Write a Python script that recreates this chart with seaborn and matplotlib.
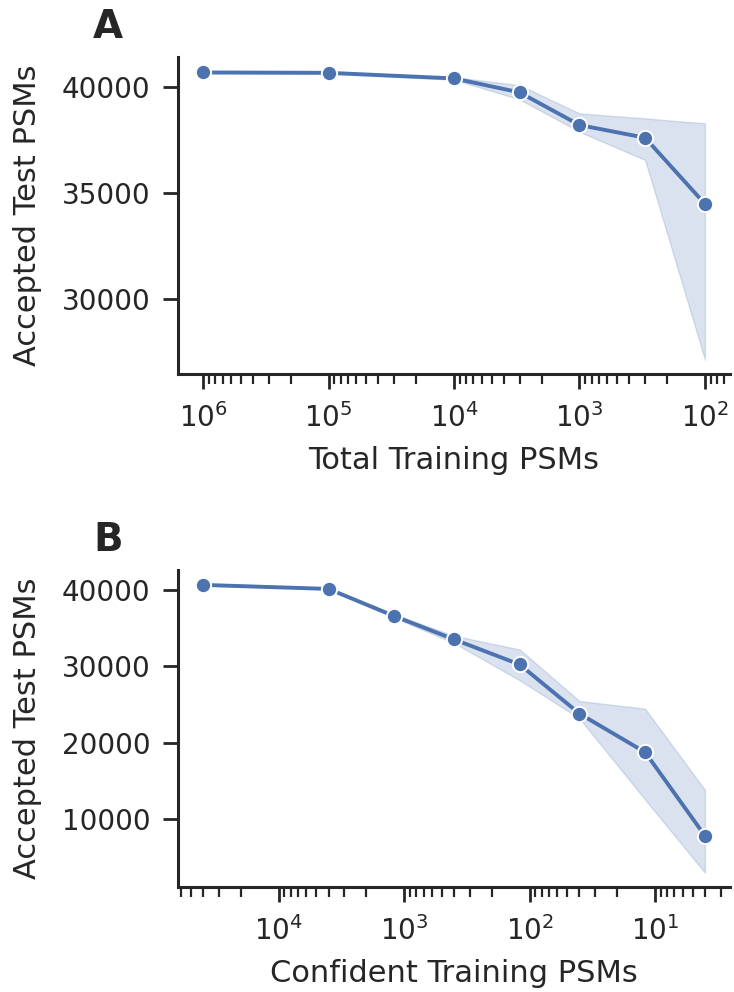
import matplotlib
matplotlib.use('Agg')
import matplotlib.pyplot as plt
import seaborn as sns
import pandas as pd

# panel A: subsampling all training PSMs
total_psms = [1e6, 1e5, 1e4, 3e3, 1e3, 3e2, 1e2]
total_mean = [40693, 40675, 40410, 39750, 38208, 37608, 34481]
total_lo = [40650, 40630, 40350, 39420, 37892, 36557, 27123]
total_hi = [40740, 40720, 40470, 40094, 38759, 38524, 38288]

# panel B: subsampling confident training PSMs
conf_psms = [40000, 4000, 1200, 400, 120, 40, 12, 4]
conf_mean = [40657, 40131, 36583, 33522, 30237, 23798, 18752, 7806]
conf_lo = [40600, 40060, 36350, 33050, 28173, 23180, 12550, 2983]
conf_hi = [40720, 40200, 36800, 34000, 32208, 25454, 24455, 13810]

sns.set_theme(style='ticks', context='talk')
plt.rcParams.update({
    'xtick.labelsize': 20, 'ytick.labelsize': 20,
    'axes.labelsize': 22,
    'xtick.major.size': 11, 'ytick.major.size': 11,
    'xtick.minor.size': 7, 'xtick.major.width': 2.0,
    'ytick.major.width': 2.0, 'xtick.minor.width': 1.6,
    'xtick.major.pad': 10, 'ytick.major.pad': 9,
    'axes.linewidth': 2.2,
})

color = sns.color_palette('deep')[0]

fig, axes = plt.subplots(2, 1, figsize=(7.34, 9.92), dpi=100)
fig.subplots_adjust(left=0.2425, right=0.9946, top=0.9425, bottom=0.1058,
                    hspace=0.618)

panels = [
    (total_psms, total_mean, total_lo, total_hi, 'Total Training PSMs', 'A'),
    (conf_psms, conf_mean, conf_lo, conf_hi, 'Confident Training PSMs', 'B'),
]

for ax, (x, m, lo, hi, xlabel, letter) in zip(axes, panels):
    df = pd.DataFrame({'x': x, 'y': m})
    ax.fill_between(x, lo, hi, color=color, alpha=0.2, linewidth=1)
    sns.lineplot(data=df, x='x', y='y', ax=ax, color=color, marker='o',
                 markersize=11, markeredgecolor='white', markeredgewidth=1.4,
                 linewidth=2.8)
    ax.set_xscale('log')
    ax.invert_xaxis()
    ax.set_xlabel(xlabel, labelpad=9)
    ax.set_ylabel('Accepted Test PSMs', labelpad=14)
    pos = ax.get_position()
    fig.text(108 / 734, pos.y1 + 30 / 992, letter, fontsize=28,
             fontweight='bold', ha='center', va='center')

sns.despine(fig=fig)
fig.savefig('out.png', dpi=100)
